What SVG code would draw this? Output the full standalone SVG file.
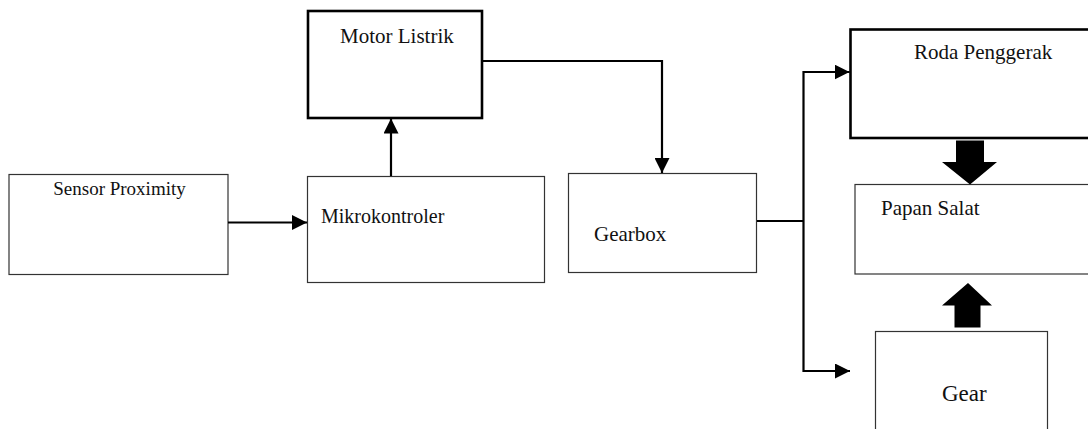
<svg xmlns="http://www.w3.org/2000/svg" width="1088" height="429" viewBox="0 0 1088 429">
<style>
.thin{fill:#fff;stroke:#333;stroke-width:1.2}
.thick{fill:#fff;stroke:#000;stroke-width:2.6}
.conn{fill:none;stroke:#000;stroke-width:2.2}
.blk{fill:#000}
</style>
<defs>
<marker id="ah" markerWidth="15" markerHeight="15" refX="15" refY="7.5" orient="auto" markerUnits="userSpaceOnUse">
<path d="M0,0 L15,7.5 L0,15 Z" fill="#000"/>
</marker>
</defs>
<rect width="1088" height="429" fill="#fff"/>
<g font-family="'Liberation Serif', 'Times New Roman', serif" font-size="21" fill="#111">
<g id="sensor"><rect class="thin" x="9" y="174.5" width="219" height="100"/><text x="119.5" y="195" text-anchor="middle" font-size="19">Sensor Proximity</text></g>
<g id="mikrokontroler"><rect class="thin" x="307.5" y="176.5" width="237" height="106"/><text x="321" y="223" font-size="20">Mikrokontroler</text></g>
<g id="motor"><rect class="thick" x="308" y="11" width="174" height="107"/><text x="340" y="42.5">Motor Listrik</text></g>
<g id="gearbox"><rect class="thin" x="568.5" y="173.5" width="188" height="99"/><text x="594" y="241">Gearbox</text></g>
<g id="roda"><rect class="thick" x="850.5" y="29.5" width="250" height="108.5"/><text x="914" y="59">Roda Penggerak</text></g>
<g id="papan"><rect class="thin" x="855" y="184.5" width="250" height="89.5"/><text x="881" y="215">Papan Salat</text></g>
<g id="gear"><rect class="thin" x="875.5" y="331.5" width="172" height="110"/><text x="942" y="401" font-size="23">Gear</text></g>
</g>
<g id="connectors">
<path class="conn" d="M228,222.5 H307" marker-end="url(#ah)"/>
<path class="conn" d="M391,176 V118.5" marker-end="url(#ah)"/>
<path class="conn" d="M482,61 H662 V173" marker-end="url(#ah)"/>
<path class="conn" d="M757,221 H803.5"/>
<path class="conn" d="M849.5,72 H803.5 V371 H850"/>
<path class="conn" d="M803.5,72 H849.5" marker-end="url(#ah)"/>
<path class="conn" d="M803.5,371 H850" marker-end="url(#ah)"/>
<polygon class="blk" points="956,140.5 984,140.5 984,162 997,162 970,184.5 942,162 956,162"/>
<polygon class="blk" points="954.5,327.5 980.5,327.5 980.5,305.5 992,305.5 968,283 942,305.5 954.5,305.5"/>
</g>
</svg>
